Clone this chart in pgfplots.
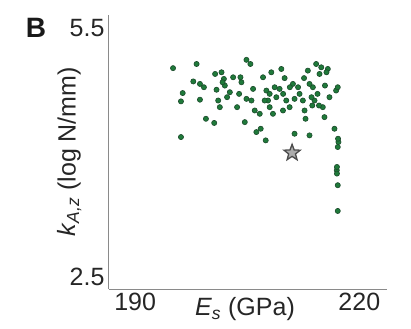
\documentclass[border=0pt]{standalone}
\usepackage{pgfplots}
\pgfplotsset{compat=1.18}
\usepackage{fontspec}
\setmainfont{Liberation Sans}
\setsansfont{Liberation Sans}
\definecolor{dotfill}{HTML}{1F7A3A}
\definecolor{dotedge}{HTML}{1B4A2B}
\definecolor{axgray}{HTML}{8A8A8A}
\pgfdeclareplotmark{fivestar}{%
  \pgfpathmoveto{\pgfqpointpolar{90}{\pgfplotmarksize}}%
  \pgfpathlineto{\pgfqpointpolar{126}{0.42\pgfplotmarksize}}%
  \pgfpathlineto{\pgfqpointpolar{162}{\pgfplotmarksize}}%
  \pgfpathlineto{\pgfqpointpolar{198}{0.42\pgfplotmarksize}}%
  \pgfpathlineto{\pgfqpointpolar{234}{\pgfplotmarksize}}%
  \pgfpathlineto{\pgfqpointpolar{270}{0.42\pgfplotmarksize}}%
  \pgfpathlineto{\pgfqpointpolar{306}{\pgfplotmarksize}}%
  \pgfpathlineto{\pgfqpointpolar{342}{0.42\pgfplotmarksize}}%
  \pgfpathlineto{\pgfqpointpolar{18}{\pgfplotmarksize}}%
  \pgfpathlineto{\pgfqpointpolar{54}{0.42\pgfplotmarksize}}%
  \pgfpathclose
  \pgfusepathqfillstroke
}
\begin{document}
\begin{tikzpicture}
\useasboundingbox (-109bp,-40bp) rectangle (302bp,289bp);
\begin{axis}[
  at={(0,0)}, anchor=south west,
  scale only axis, width=278bp, height=274bp,
  xmin=186.5, xmax=223.7, ymin=2.36, ymax=5.66,
  axis x line*=bottom, axis y line*=left,
  axis line style={-, axgray, line width=1bp},
  xtick={190,220}, xticklabels={190,220},
  ytick={2.5,5.5}, yticklabels={2.5,5.5},
  major tick length=0,
  tick label style={font=\fontsize{25bp}{28bp}\selectfont, text=black!85},
  xticklabel style={yshift=-1bp},
  yticklabel style={xshift=-1bp},
  xlabel={\textit{E}\textsubscript{\textit{s}} (GPa)},
  ylabel={\textit{k}\textsubscript{\textit{A,z}} (log N/mm)},
  label style={font=\fontsize{25bp}{28bp}\selectfont, text=black!85},
  xlabel style={at={(rel axis cs:0.489,0)}, anchor=north, yshift=-5bp},
  ylabel style={at={(rel axis cs:0,0.5)}, anchor=south, yshift=24bp},
  clip=false,
]
\addplot[only marks, mark=*, mark size=2.6bp, mark options={fill=dotfill, draw=dotedge, line width=0.6bp}] table {
x y
195.07 5.02
198.22 5.07
204.89 5.12
205.42 5.07
196.36 4.72
196.13 4.62
196.13 4.19
197.78 4.86
198.67 4.83
199.20 4.79
198.67 4.64
199.47 4.41
200.58 4.36
200.89 4.76
201.11 4.63
201.33 4.55
201.56 4.97
201.87 4.89
202.00 4.81
202.67 4.73
203.64 4.55
203.91 4.71
204.09 4.91
204.22 4.85
204.67 4.37
204.89 4.65
205.56 4.63
206.00 4.51
206.22 4.25
206.80 4.29
207.47 4.15
207.11 4.91
207.56 4.75
207.78 4.63
208.00 4.55
208.22 4.97
208.67 4.79
208.89 4.67
208.44 4.47
209.56 5.01
209.33 4.77
209.78 4.51
210.22 4.63
211.11 4.83
211.33 4.65
211.33 4.23
212.00 4.71
212.44 4.63
212.67 4.51
212.80 4.41
213.33 4.21
213.11 4.99
213.78 4.79
214.00 4.63
214.22 5.07
214.67 4.95
215.11 4.55
215.33 4.43
215.78 5.01
216.00 4.67
216.89 4.75
217.11 4.79
216.67 4.29
217.20 4.13
217.11 4.07
216.98 3.79
217.11 3.61
217.11 3.30
213.33 4.83
210.67 4.55
206.67 4.47
205.78 4.77
203.11 4.91
207.33 4.63
208.00 4.71
214.90 5.03
215.60 4.97
217.15 4.17
217.00 3.83
217.00 3.75
200.70 4.95
201.70 4.85
209.80 4.71
210.70 4.79
211.80 4.79
213.60 4.67
214.40 4.71
215.40 4.81
214.60 4.57
213.70 4.57
202.30 4.67
210.00 4.90
212.60 4.90
};
\addplot[only marks, mark=fivestar, mark size=8.5bp, mark options={fill=gray!65, draw=black!70, line width=1.3bp}] coordinates {(211.0,4.00)};
\end{axis}
\node[font=\fontsize{28bp}{30bp}\selectfont\bfseries, text=black!90] at (-73bp,261bp) {B};
\end{tikzpicture}
\end{document}
